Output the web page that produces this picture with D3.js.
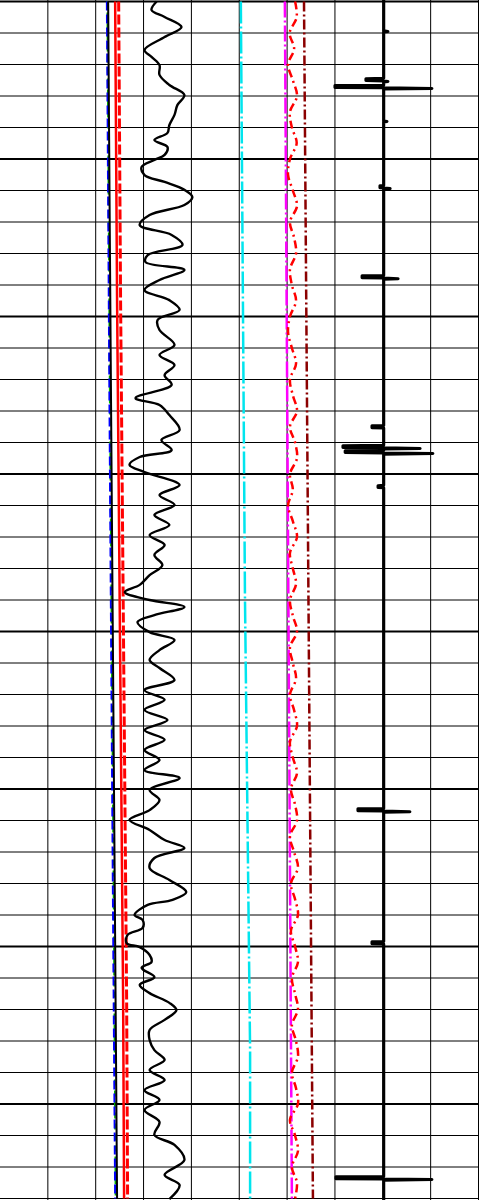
<!DOCTYPE html>
<html>
<head>
<meta charset="utf-8">
<script src="https://cdn.jsdelivr.net/npm/d3@7"></script>
<style>
  body { margin: 0; background: #fff; }
</style>
</head>
<body>
<div id="main"></div>
<script>
const ctx = {
    w: 483,
    h: 1200,
    plotW: 478.5,
    top: 1.5,
    bottom: 1198.5,
};

// depth axis (m) and value axis
const depthTop = 1500, depthBase = 1538;
const minorStep = 1, majorStep = 5;
const valueMin = 0, valueMax = 150, valueStep = 15;

// wiggly black curve
const grDepth = [1500.0, 1500.27, 1500.49, 1500.81, 1501.13, 1501.54, 1501.76, 1502.02, 1502.33, 1502.65,
  1502.97, 1503.29, 1503.60, 1503.92, 1504.17, 1504.40, 1504.62, 1504.87, 1505.03, 1505.25,
  1505.51, 1505.73, 1505.98, 1506.21, 1506.46, 1506.78, 1507.10, 1507.41, 1507.73, 1508.05,
  1508.27, 1508.52, 1508.84, 1509.16, 1509.48, 1509.79, 1510.11, 1510.43, 1510.90, 1511.22,
  1511.54, 1511.86, 1512.17, 1512.59, 1512.81, 1513.13, 1513.60, 1513.92, 1514.24, 1514.46,
  1514.71, 1514.94, 1515.35, 1515.67, 1515.98, 1516.30, 1516.62, 1516.94, 1517.25, 1517.57,
  1517.89, 1518.21, 1518.52, 1518.75, 1519.00, 1519.22, 1519.48, 1519.70, 1520.02, 1520.27,
  1520.59, 1520.90, 1521.16, 1521.54, 1521.86, 1522.17, 1522.49, 1522.81, 1523.13, 1523.44,
  1523.76, 1524.08, 1524.40, 1524.65, 1525.03, 1525.35, 1525.67, 1525.98, 1526.30, 1526.62,
  1526.87, 1527.19, 1527.51, 1527.89, 1528.27, 1528.52, 1528.68, 1529.00, 1529.16, 1529.41,
  1529.63, 1529.89, 1530.02, 1530.27, 1530.49, 1530.68, 1530.97, 1531.22, 1531.48, 1531.79,
  1532.02, 1532.33, 1532.65, 1532.97, 1533.29, 1533.60, 1533.92, 1534.24, 1534.56, 1534.87,
  1535.19, 1535.57, 1535.98, 1536.30, 1536.78, 1537.25, 1537.57, 1538.02];
const grValue = [49.1, 47.5, 51.6, 56.9, 51.6, 45.3, 47.5, 50, 50, 53.1,
  57.8, 55.6, 54.7, 53.1, 52.5, 48.4, 52.5, 51.6, 48.4, 44.4,
  45.3, 51.6, 57.8, 60.3, 57.8, 46.9, 43.8, 53.8, 57.2, 46.3,
  45.6, 57.8, 50, 45.3, 53.1, 56.3, 49.4, 50, 54.7, 50,
  54.7, 51.6, 53.8, 42.5, 50, 53.1, 56.3, 50.6, 53.8, 43.8,
  40.6, 45.3, 56.3, 50, 54.7, 48.4, 53.1, 46.9, 51.6, 48.4,
  50.9, 46.9, 43.8, 39.1, 46.9, 57.8, 48.4, 43.1, 46.9, 54.7,
  50, 46.9, 50, 54.7, 45.3, 51.6, 45.3, 52.5, 45.3, 51.6,
  45.3, 50, 45.3, 56.3, 46.9, 50, 46.9, 40.6, 46.9, 51.6,
  57.8, 48.4, 46.9, 53.1, 58.4, 54.1, 46.3, 42.2, 44.7, 44.7,
  40, 39.7, 43.8, 46.9, 47.5, 44.4, 48.4, 43.8, 46.9, 53.1,
  55.3, 51.6, 46.9, 46.9, 48.4, 51.6, 46.9, 51.6, 45.3, 50,
  45.3, 50, 48.4, 54.7, 57.8, 51.6, 56.3, 53.1];

// near-straight curves (few control readings)
const lineDepth = [1500, 1512.6, 1528.5, 1538];
const blackValue = [33.9, 34.8, 36.0, 36.7];
const blueValue = [33.5, 34.3, 35.4, 36.1];
const greenValue = [33.6, 34.4, 35.6, 36.2];

const redDepth = [1500, 1509.5, 1531.7, 1538];
const redSolidValue = [36.1, 36.7, 38.6, 38.9];
const redDashValue = [37.2, 37.8, 39.7, 40.0];

const cyanDepth = [1500, 1519, 1533.3, 1538];
const cyanValue = [75.5, 76.8, 78.4, 78.4];

const magentaDepth = [1500, 1538];
const magentaValue = [89.3, 91.5];

const maroonDepth = [1500, 1538];
const maroonValue = [95.3, 98.1];

// red dash-dot curve, sampled every 0.5 m
const redWiggleStep = 0.5;
const redWiggleValue = [92.5, 93.0, 90.8, 92.2, 90.3, 91.8, 93.1, 90.9, 91.5, 93.0,
  90.9, 90.3, 91.8, 93.1, 90.9, 92.2, 92.8, 90.9, 91.5, 92.8,
  90.9, 90.3, 91.5, 92.8, 90.9, 91.8, 93.1, 90.9, 92.5, 93.1,
  90.9, 91.8, 90.3, 91.8, 93.1, 90.9, 91.8, 92.8, 90.9, 91.8,
  93.1, 90.9, 91.8, 92.8, 90.9, 92.2, 93.1, 90.9, 91.8, 93.1,
  91.2, 92.5, 93.1, 90.9, 92.2, 93.4, 91.2, 92.5, 93.4, 91.2,
  92.5, 93.4, 91.5, 92.5, 93.4, 91.5, 92.8, 93.4, 91.5, 92.8,
  93.4, 90.9, 92.5, 93.4, 91.5, 93.1, 92.5];

// spiky right curve: baseline and spikes
const spikeBase = 120.3;
const spikeDepth = [1500.90, 1502.49, 1502.71, 1503.76, 1505.89, 1508.75, 1513.51, 1514.14, 1514.30, 1515.41, 1525.67, 1529.89, 1537.35];
const spikeLo = [120.3, 114.7, 105.0, 120.3, 119.1, 113.5, 116.6, 107.5, 108.2, 118.5, 112.2, 116.6, 105.3];
const spikeHi = [121.6, 121.6, 135.4, 121.3, 122.3, 124.8, 120.3, 131.7, 135.7, 120.3, 128.5, 120.3, 135.4];

function toPoints(depths, values) {
    return depths.map((d, i) => ({ d: d, v: values[i] }));
}

function drawGrid(svg, x, y) {
    let g = svg.append("g").attr("class", "grid");
    let minor = d3.range(depthTop, depthBase + 0.001, minorStep);
    g.selectAll("line.h")
     .data(minor)
     .enter().append("line")
     .attr("class", "h")
     .attr("x1", 0).attr("x2", ctx.plotW)
     .attr("y1", d => y(d)).attr("y2", d => y(d))
     .style("stroke", "#000")
     .style("stroke-width", d => ((d - depthTop) % majorStep === 0) ? 2.2 : 1);

    let vt = d3.range(valueMin + valueStep, valueMax + 0.001, valueStep);
    g.selectAll("line.v")
     .data(vt)
     .enter().append("line")
     .attr("class", "v")
     .attr("x1", d => x(d)).attr("x2", d => x(d))
     .attr("y1", 0).attr("y2", ctx.h)
     .style("stroke", "#000")
     .style("stroke-width", 1);
}

function drawCurve(svg, x, y, pts, style, curve) {
    let line = d3.line()
        .x(p => x(p.v))
        .y(p => y(p.d))
        .curve(curve || d3.curveLinear);
    svg.append("path")
       .datum(pts)
       .attr("d", line)
       .style("fill", "none")
       .style("stroke", style.color)
       .style("stroke-width", style.width)
       .style("stroke-dasharray", style.dash || null)
       .style("stroke-linejoin", "round")
       .style("stroke-linecap", style.cap || "butt");
}

// each spike: thick excursion to the left, thinner one to the right
function spikePoints() {
    let pts = [{ d: depthTop - 0.1, v: spikeBase }];
    spikeDepth.forEach((d, i) => {
        pts.push({ d: d - 0.05, v: spikeBase });
        pts.push({ d: d - 0.04, v: spikeLo[i] });
        pts.push({ d: d + 0.02, v: spikeLo[i] });
        pts.push({ d: d + 0.03, v: spikeBase });
        pts.push({ d: d + 0.05, v: spikeHi[i] });
        pts.push({ d: d + 0.07, v: spikeBase });
    });
    pts.push({ d: depthBase + 0.1, v: spikeBase });
    return pts;
}

function createViz() {
    let svg = d3.select("#main").append("svg")
                .attr("width", ctx.w)
                .attr("height", ctx.h);

    let x = d3.scaleLinear().domain([valueMin, valueMax]).range([0, ctx.plotW]);
    let y = d3.scaleLinear().domain([depthTop, depthBase]).range([ctx.top, ctx.bottom]);

    drawGrid(svg, x, y);

    let redWiggleDepth = redWiggleValue.map((v, i) => depthTop + i * redWiggleStep);

    drawCurve(svg, x, y, toPoints(lineDepth, greenValue), { color: "#00b000", width: 1.6, dash: "6,5" });
    drawCurve(svg, x, y, toPoints(lineDepth, blueValue), { color: "#0000ff", width: 2, dash: "9,4" });
    drawCurve(svg, x, y, toPoints(lineDepth, blackValue), { color: "#000", width: 2 });
    drawCurve(svg, x, y, toPoints(redDepth, redSolidValue), { color: "#ff0000", width: 2.5 });
    drawCurve(svg, x, y, toPoints(redDepth, redDashValue), { color: "#ff0000", width: 3, dash: "10,3" });

    drawCurve(svg, x, y, toPoints(cyanDepth, cyanValue), { color: "#00e5ee", width: 2.5, dash: "22,3,2,3" });
    drawCurve(svg, x, y, toPoints(magentaDepth, magentaValue), { color: "#ff00ff", width: 2.5, dash: "16,3,2,3" });
    drawCurve(svg, x, y, toPoints(redWiggleDepth, redWiggleValue), { color: "#ff0000", width: 2.5, dash: "8,4,2,4" }, d3.curveCatmullRom.alpha(0.5));
    drawCurve(svg, x, y, toPoints(maroonDepth, maroonValue), { color: "#8b0000", width: 2.5, dash: "10,3,2,3" });

    drawCurve(svg, x, y, toPoints(grDepth, grValue), { color: "#000", width: 2.4 }, d3.curveCatmullRom.alpha(0.5));
    drawCurve(svg, x, y, spikePoints(), { color: "#000", width: 3 });
}

createViz();
</script>
</body>
</html>
